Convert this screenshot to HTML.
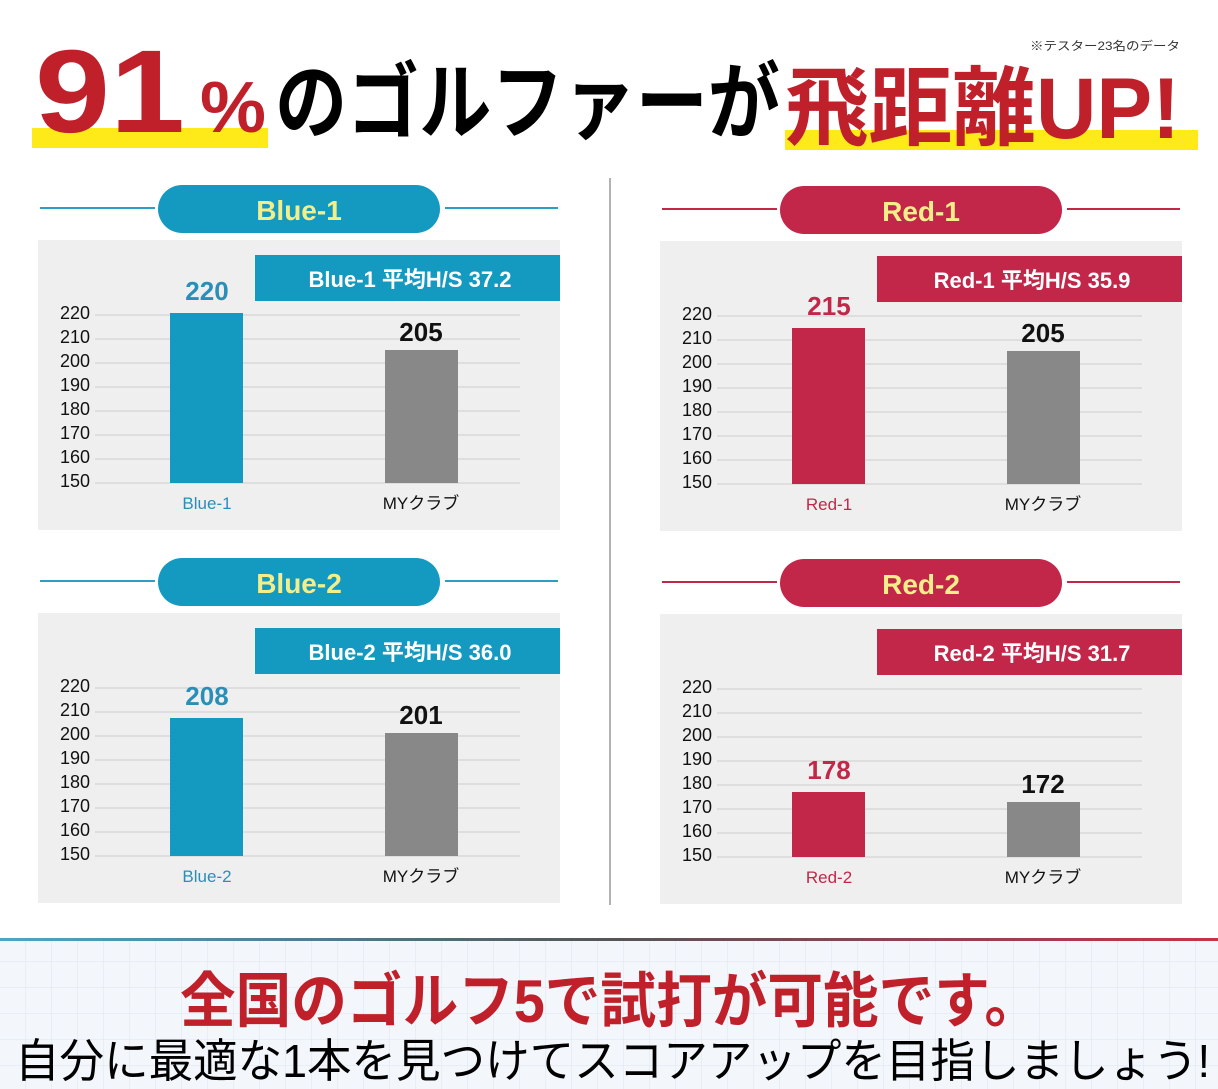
<!DOCTYPE html>
<html><head><meta charset="utf-8"><style>
body{margin:0;background:#fff}
svg{display:block}
text{font-family:"Liberation Sans","Noto Sans CJK JP",sans-serif}
</style></head><body>
<svg width="1218" height="1089" viewBox="0 0 1218 1089" xmlns="http://www.w3.org/2000/svg">
<defs>
<pattern id="grid" width="26" height="26" patternUnits="userSpaceOnUse">
<path d="M26 0V26H0" fill="none" stroke="#dde6f2" stroke-width="1"/>
</pattern>
<linearGradient id="lg" x1="0" x2="1"><stop offset="0" stop-color="#4aa7c9"/><stop offset="0.5" stop-color="#555"/><stop offset="1" stop-color="#c9304c"/></linearGradient>
</defs>
<rect width="1218" height="1089" fill="#fff"/>
<!-- header -->
<rect x="32" y="128" width="236" height="20" fill="#fdea18"/>
<rect x="785" y="130" width="413" height="20" fill="#fdea18"/>
<text x="35" y="132" font-size="118" font-weight="bold" fill="#c0202a" textLength="150" lengthAdjust="spacingAndGlyphs">91</text>
<text x="200" y="132" font-size="72" font-weight="bold" fill="#c0202a" textLength="66" lengthAdjust="spacingAndGlyphs">%</text>
<text x="275" y="132" font-size="84" font-weight="bold" fill="#000" textLength="505" lengthAdjust="spacingAndGlyphs">のゴルファーが</text>
<text x="785" y="138" font-size="86" font-weight="bold" fill="#c0202a" textLength="395" lengthAdjust="spacingAndGlyphs">飛距離UP!</text>
<text x="1030" y="50" font-size="12" fill="#333" textLength="150" lengthAdjust="spacingAndGlyphs">※テスター23名のデータ</text>
<line x1="610" y1="178" x2="610" y2="905" stroke="#999" stroke-width="1.5"/>

<!-- panel template via groups -->
<g id="b1">
<line x1="40" y1="208" x2="155" y2="208" stroke="#2a9ec4" stroke-width="2"/>
<line x1="445" y1="208" x2="558" y2="208" stroke="#2a9ec4" stroke-width="2"/>
<rect x="158" y="185" width="282" height="48" rx="24" fill="#1499c0"/>
<text x="299" y="220" font-size="28" fill="#f2ee8a" text-anchor="middle" font-weight="bold">Blue-1</text>
<rect x="38" y="240" width="522" height="290" fill="#efefef"/>
<rect x="255" y="255" width="305" height="46" fill="#1499c0"/>
<text x="410" y="287" font-size="22" fill="#fff" text-anchor="middle" font-weight="bold">Blue-1  平均H/S 37.2</text>
<g stroke="#ccc" stroke-width="1">
<line x1="95" y1="315" x2="520" y2="315"/><line x1="95" y1="339" x2="520" y2="339"/><line x1="95" y1="363" x2="520" y2="363"/><line x1="95" y1="387" x2="520" y2="387"/><line x1="95" y1="411" x2="520" y2="411"/><line x1="95" y1="435" x2="520" y2="435"/><line x1="95" y1="459" x2="520" y2="459"/><line x1="95" y1="483" x2="520" y2="483"/>
</g>
<g font-size="18" fill="#111" text-anchor="end">
<text x="90" y="319">220</text><text x="90" y="343">210</text><text x="90" y="367">200</text><text x="90" y="391">190</text><text x="90" y="415">180</text><text x="90" y="439">170</text><text x="90" y="463">160</text><text x="90" y="487">150</text>
</g>
<rect x="170" y="313" width="73" height="170" fill="#1499c0"/>
<rect x="385" y="350" width="73" height="133" fill="#888"/>
<text x="207" y="300" font-size="26" font-weight="bold" fill="#2a8fb8" text-anchor="middle">220</text>
<text x="421" y="341" font-size="26" font-weight="bold" fill="#111" text-anchor="middle">205</text>
<text x="207" y="509" font-size="17" fill="#2a8fb8" text-anchor="middle">Blue-1</text>
<text x="421" y="509" font-size="17" fill="#111" text-anchor="middle">MYクラブ</text>
</g>

<g transform="translate(0,373)">
<line x1="40" y1="208" x2="155" y2="208" stroke="#2a9ec4" stroke-width="2"/>
<line x1="445" y1="208" x2="558" y2="208" stroke="#2a9ec4" stroke-width="2"/>
<rect x="158" y="185" width="282" height="48" rx="24" fill="#1499c0"/>
<text x="299" y="220" font-size="28" fill="#f2ee8a" text-anchor="middle" font-weight="bold">Blue-2</text>
<rect x="38" y="240" width="522" height="290" fill="#efefef"/>
<rect x="255" y="255" width="305" height="46" fill="#1499c0"/>
<text x="410" y="287" font-size="22" fill="#fff" text-anchor="middle" font-weight="bold">Blue-2  平均H/S 36.0</text>
<g stroke="#ccc" stroke-width="1">
<line x1="95" y1="315" x2="520" y2="315"/><line x1="95" y1="339" x2="520" y2="339"/><line x1="95" y1="363" x2="520" y2="363"/><line x1="95" y1="387" x2="520" y2="387"/><line x1="95" y1="411" x2="520" y2="411"/><line x1="95" y1="435" x2="520" y2="435"/><line x1="95" y1="459" x2="520" y2="459"/><line x1="95" y1="483" x2="520" y2="483"/>
</g>
<g font-size="18" fill="#111" text-anchor="end">
<text x="90" y="319">220</text><text x="90" y="343">210</text><text x="90" y="367">200</text><text x="90" y="391">190</text><text x="90" y="415">180</text><text x="90" y="439">170</text><text x="90" y="463">160</text><text x="90" y="487">150</text>
</g>
<rect x="170" y="345" width="73" height="138" fill="#1499c0"/>
<rect x="385" y="360" width="73" height="123" fill="#888"/>
<text x="207" y="332" font-size="26" font-weight="bold" fill="#2a8fb8" text-anchor="middle">208</text>
<text x="421" y="351" font-size="26" font-weight="bold" fill="#111" text-anchor="middle">201</text>
<text x="207" y="509" font-size="17" fill="#2a8fb8" text-anchor="middle">Blue-2</text>
<text x="421" y="509" font-size="17" fill="#111" text-anchor="middle">MYクラブ</text>
</g>

<g transform="translate(622,1)">
<line x1="40" y1="208" x2="155" y2="208" stroke="#c2274a" stroke-width="2"/>
<line x1="445" y1="208" x2="558" y2="208" stroke="#c2274a" stroke-width="2"/>
<rect x="158" y="185" width="282" height="48" rx="24" fill="#c2274a"/>
<text x="299" y="220" font-size="28" fill="#f2ee8a" text-anchor="middle" font-weight="bold">Red-1</text>
<rect x="38" y="240" width="522" height="290" fill="#efefef"/>
<rect x="255" y="255" width="305" height="46" fill="#c2274a"/>
<text x="410" y="287" font-size="22" fill="#fff" text-anchor="middle" font-weight="bold">Red-1  平均H/S 35.9</text>
<g stroke="#ccc" stroke-width="1">
<line x1="95" y1="315" x2="520" y2="315"/><line x1="95" y1="339" x2="520" y2="339"/><line x1="95" y1="363" x2="520" y2="363"/><line x1="95" y1="387" x2="520" y2="387"/><line x1="95" y1="411" x2="520" y2="411"/><line x1="95" y1="435" x2="520" y2="435"/><line x1="95" y1="459" x2="520" y2="459"/><line x1="95" y1="483" x2="520" y2="483"/>
</g>
<g font-size="18" fill="#111" text-anchor="end">
<text x="90" y="319">220</text><text x="90" y="343">210</text><text x="90" y="367">200</text><text x="90" y="391">190</text><text x="90" y="415">180</text><text x="90" y="439">170</text><text x="90" y="463">160</text><text x="90" y="487">150</text>
</g>
<rect x="170" y="327" width="73" height="156" fill="#c2274a"/>
<rect x="385" y="350" width="73" height="133" fill="#888"/>
<text x="207" y="314" font-size="26" font-weight="bold" fill="#c2274a" text-anchor="middle">215</text>
<text x="421" y="341" font-size="26" font-weight="bold" fill="#111" text-anchor="middle">205</text>
<text x="207" y="509" font-size="17" fill="#c2274a" text-anchor="middle">Red-1</text>
<text x="421" y="509" font-size="17" fill="#111" text-anchor="middle">MYクラブ</text>
</g>

<g transform="translate(622,374)">
<line x1="40" y1="208" x2="155" y2="208" stroke="#c2274a" stroke-width="2"/>
<line x1="445" y1="208" x2="558" y2="208" stroke="#c2274a" stroke-width="2"/>
<rect x="158" y="185" width="282" height="48" rx="24" fill="#c2274a"/>
<text x="299" y="220" font-size="28" fill="#f2ee8a" text-anchor="middle" font-weight="bold">Red-2</text>
<rect x="38" y="240" width="522" height="290" fill="#efefef"/>
<rect x="255" y="255" width="305" height="46" fill="#c2274a"/>
<text x="410" y="287" font-size="22" fill="#fff" text-anchor="middle" font-weight="bold">Red-2  平均H/S 31.7</text>
<g stroke="#ccc" stroke-width="1">
<line x1="95" y1="315" x2="520" y2="315"/><line x1="95" y1="339" x2="520" y2="339"/><line x1="95" y1="363" x2="520" y2="363"/><line x1="95" y1="387" x2="520" y2="387"/><line x1="95" y1="411" x2="520" y2="411"/><line x1="95" y1="435" x2="520" y2="435"/><line x1="95" y1="459" x2="520" y2="459"/><line x1="95" y1="483" x2="520" y2="483"/>
</g>
<g font-size="18" fill="#111" text-anchor="end">
<text x="90" y="319">220</text><text x="90" y="343">210</text><text x="90" y="367">200</text><text x="90" y="391">190</text><text x="90" y="415">180</text><text x="90" y="439">170</text><text x="90" y="463">160</text><text x="90" y="487">150</text>
</g>
<rect x="170" y="418" width="73" height="65" fill="#c2274a"/>
<rect x="385" y="428" width="73" height="55" fill="#888"/>
<text x="207" y="405" font-size="26" font-weight="bold" fill="#c2274a" text-anchor="middle">178</text>
<text x="421" y="419" font-size="26" font-weight="bold" fill="#111" text-anchor="middle">172</text>
<text x="207" y="509" font-size="17" fill="#c2274a" text-anchor="middle">Red-2</text>
<text x="421" y="509" font-size="17" fill="#111" text-anchor="middle">MYクラブ</text>
</g>

<!-- bottom -->
<rect x="0" y="941" width="1218" height="148" fill="#f3f7fc"/>
<rect x="0" y="941" width="1218" height="148" fill="url(#grid)"/>
<rect x="0" y="938" width="1218" height="3" fill="url(#lg)"/>
<text x="180" y="1022" font-size="60" font-weight="bold" fill="#c0202a" textLength="860" lengthAdjust="spacingAndGlyphs">全国のゴルフ5で試打が可能です。</text>
<text x="15" y="1077" font-size="46" fill="#000" textLength="1195" lengthAdjust="spacingAndGlyphs">自分に最適な1本を見つけてスコアアップを目指しましょう!</text>
</svg>
</body></html>
